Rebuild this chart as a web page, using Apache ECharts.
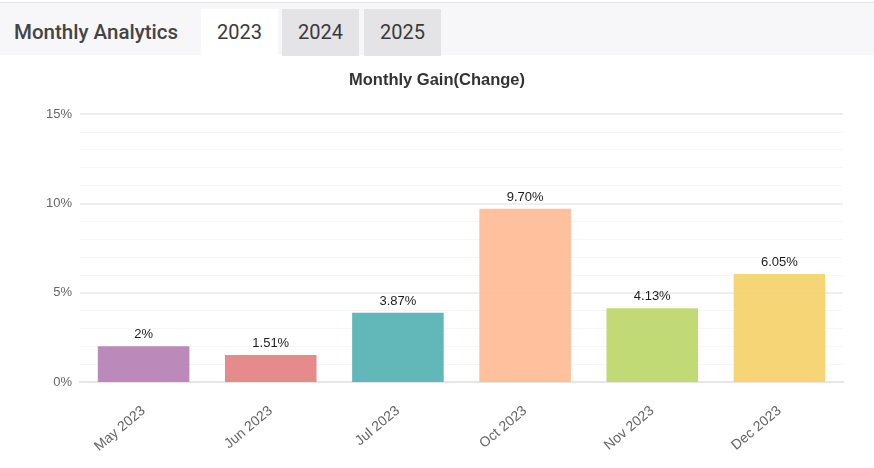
<!DOCTYPE html>
<html>
<head>
<meta charset="utf-8">
<script src="https://cdn.jsdelivr.net/npm/echarts@6/dist/echarts.min.js"></script>
<style>
  html, body { margin: 0; padding: 0; background: #fff; }
  #wrap { width: 874px; height: 468px; position: relative; overflow: hidden; font-family: Roboto, "Open Sans", sans-serif; }
  #header { position: absolute; left: 0; top: 2px; width: 874px; height: 53px; background: #f7f6f9; border-top: 1px solid #e4e3e8; box-sizing: border-box; }
  #htitle { position: absolute; left: 14px; top: 16px; font-size: 20.5px; font-weight: 500; color: #444; line-height: 26px; }
  .tab { position: absolute; top: 6px; height: 47px; width: 77px; text-align: center; line-height: 47px; font-size: 20px; color: #3a3a3a; background: #e4e3e6; }
  .tab.active { background: #fff; }
  #chart { position: absolute; left: 0; top: 55px; width: 874px; height: 413px; }
</style>
</head>
<body>
<div id="wrap">
  <div id="header">
    <div id="htitle">Monthly Analytics</div>
    <div class="tab active" style="left:201px">2023</div>
    <div class="tab" style="left:282px">2024</div>
    <div class="tab" style="left:364px">2025</div>
  </div>
  <div id="chart"></div>
</div>
<script>
const categories = ['May 2023', 'Jun 2023', 'Jul 2023', 'Oct 2023', 'Nov 2023', 'Dec 2023'];
const gains = [2, 1.51, 3.87, 9.70, 4.13, 6.05];
const gainLabels = ['2%', '1.51%', '3.87%', '9.70%', '4.13%', '6.05%'];
const barColors = ['#b784b7', '#e48586', '#5ab3b5', '#ffbe98', '#bfd86f', '#f6d370'];
const yTicks = [0, 5, 10, 15];

const chart = echarts.init(document.getElementById('chart'), null, { renderer: 'canvas' });
chart.setOption({
  animation: false,
  title: {
    text: 'Monthly Gain(Change)',
    left: 'center',
    top: 12,
    textStyle: { fontSize: 16.5, fontWeight: 'bold', color: '#333', fontFamily: 'Liberation Sans, Arial, sans-serif' }
  },
  grid: { left: 80, right: 31, top: 59, bottom: 86, containLabel: false },
  xAxis: {
    type: 'category',
    data: categories,
    axisTick: { show: false },
    axisLine: { lineStyle: { color: '#e6e6e6', width: 2 } },
    axisLabel: { rotate: 40, color: '#666', fontSize: 14, margin: 27, fontFamily: 'Liberation Sans, Arial, sans-serif' }
  },
  yAxis: {
    type: 'value',
    min: yTicks[0],
    max: yTicks[yTicks.length - 1],
    interval: 5,
    axisLine: { show: false },
    axisTick: { show: false },
    axisLabel: { formatter: '{value}%', color: '#666', fontSize: 13, margin: 8, fontFamily: 'Liberation Sans, Arial, sans-serif' },
    splitLine: { lineStyle: { color: '#e8e8e8', width: 1.5 } },
    minorTick: { show: false, splitNumber: 5 },
    minorSplitLine: { show: true, lineStyle: { color: '#f6f6f6', width: 1 } }
  },
  series: [{
    type: 'bar',
    data: gains.map((v, i) => ({ value: v, itemStyle: { color: barColors[i] } })),
    barCategoryGap: '28%',
    itemStyle: { opacity: 0.95 },
    label: {
      show: true,
      position: 'top',
      distance: 5,
      color: '#111',
      fontSize: 13,
      fontFamily: 'Liberation Sans, Arial, sans-serif',
      formatter: p => gainLabels[p.dataIndex]
    }
  }]
});
</script>
</body>
</html>
